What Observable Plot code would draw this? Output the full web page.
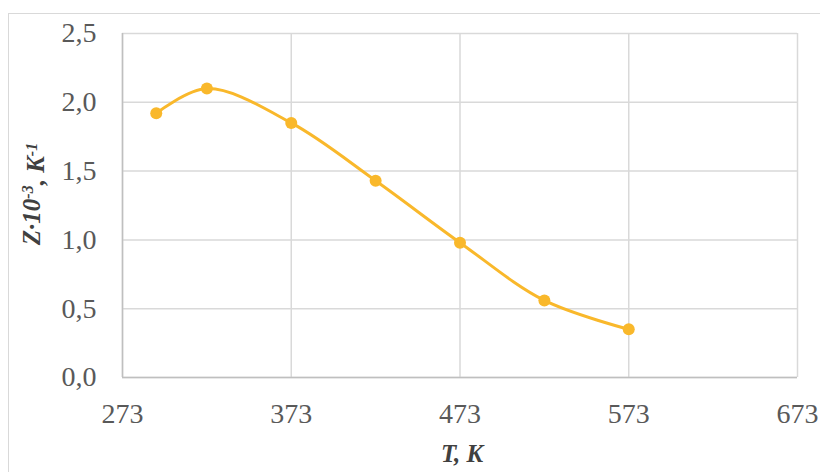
<!DOCTYPE html>
<html>
<head>
<meta charset="utf-8">
<script src="https://cdn.jsdelivr.net/npm/d3@7"></script>
<script src="https://cdn.jsdelivr.net/npm/@observablehq/plot@0.6"></script>
<style>
  html, body { margin: 0; padding: 0; background: #fff; }
  #wrap { position: relative; width: 820px; height: 472px; overflow: hidden; }
  #frame { position: absolute; left: 8px; top: 13px; width: 830px; height: 480px; border: 1px solid #d9d9d9; box-sizing: border-box; pointer-events: none; }
  #wrap svg text { font-family: "Liberation Serif", "Times New Roman", serif !important; }
</style>
</head>
<body>
<div id="wrap"><div id="frame"></div></div>
<script>
const temperatures = [293, 323, 373, 423, 473, 523, 573];
const zValues = [1.92, 2.10, 1.85, 1.43, 0.98, 0.56, 0.35];
const xTicks = [273, 373, 473, 573, 673];
const yTicks = [0, 0.5, 1.0, 1.5, 2.0, 2.5];
const xLabel = "T, K";

const data = temperatures.map((t, i) => ({T: t, Z: zValues[i]}));
const color = "#F9B82B";
const fmt = d => d.toFixed(1).replace(".", ",");
const serif = "\"Liberation Serif\", \"Times New Roman\", serif";

const chart = Plot.plot({
  width: 820,
  height: 472,
  marginLeft: 122,
  marginRight: 23,
  marginTop: 33,
  marginBottom: 95,
  style: {fontSize: "28px", color: "#595959", background: "transparent"},
  x: {domain: [273, 673], ticks: xTicks, tickSize: 0, tickPadding: 26, label: null},
  y: {domain: [0, 2.5], ticks: yTicks, tickSize: 0, tickPadding: 26, tickFormat: fmt, label: null},
  marks: [
    Plot.gridX(xTicks, {stroke: "#d9d9d9", strokeOpacity: 1, strokeWidth: 1.5}),
    Plot.gridY(yTicks, {stroke: "#d9d9d9", strokeOpacity: 1, strokeWidth: 1.5}),
    Plot.ruleX([273], {stroke: "#bfbfbf", strokeWidth: 1.5}),
    Plot.ruleY([0], {stroke: "#bfbfbf", strokeWidth: 1.5}),
    Plot.line(data, {x: "T", y: "Z", stroke: color, strokeWidth: 3, curve: "catmull-rom"}),
    Plot.dot(data, {x: "T", y: "Z", r: 6, fill: color, stroke: "none"})
  ]
});

const svg = d3.select(chart);
svg.style("position", "absolute").style("left", "0px").style("top", "0px");

// X axis title
svg.append("text")
  .attr("x", 462).attr("y", 462)
  .attr("text-anchor", "middle")
  .style("font-size", "25px").style("font-weight", "bold").style("font-style", "italic")
  .attr("fill", "#404040")
  .text(xLabel);

// Y axis title with superscripts
const yt = svg.append("text")
  .attr("transform", "translate(40,194) rotate(-90)")
  .attr("text-anchor", "middle")
  .style("font-size", "25px").style("font-weight", "bold").style("font-style", "italic")
  .attr("fill", "#404040");
yt.append("tspan").text("Z·10");
yt.append("tspan").attr("dy", "-0.45em").style("font-size", "16px").text("-3");
yt.append("tspan").attr("dy", "0.45em").text(", K");
yt.append("tspan").attr("dy", "-0.45em").style("font-size", "16px").text("-1");

svg.selectAll("text").style("font-family", serif);

document.getElementById("wrap").appendChild(chart);
</script>
</body>
</html>
